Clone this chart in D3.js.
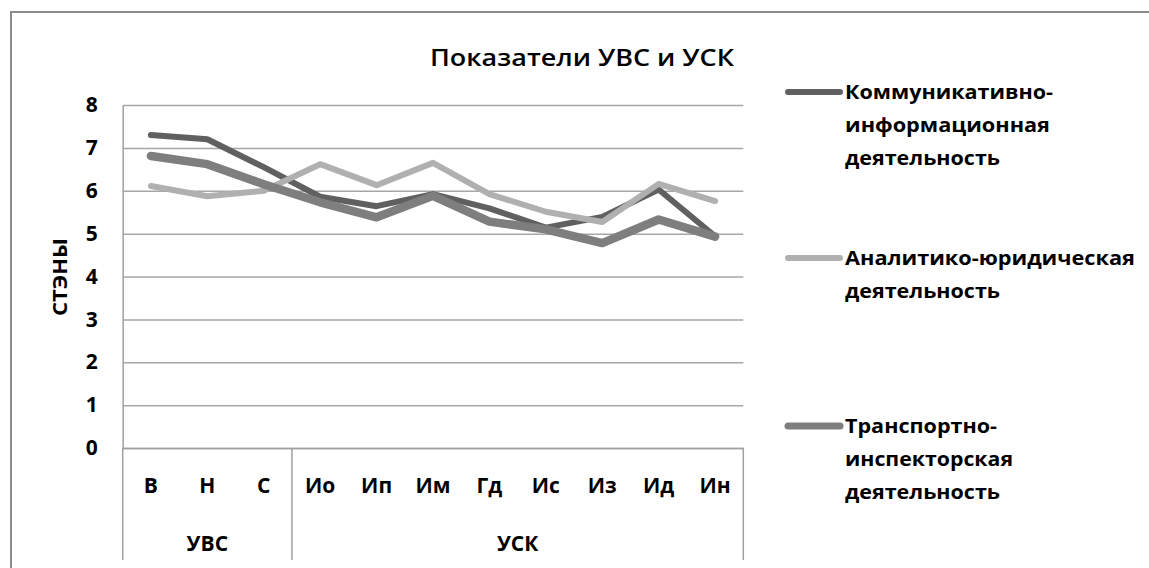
<!DOCTYPE html>
<html>
<head>
<meta charset="utf-8">
<script src="https://cdn.jsdelivr.net/npm/d3@7"></script>
<style>
  html, body { margin: 0; padding: 0; background: #fff; }
  svg { display: block; }
  text { font-family: "Open Sans", "Noto Sans", sans-serif; fill: #000; }
</style>
</head>
<body>
<svg id="chart" width="1149" height="568"></svg>
<script>
// ---- data ----
const categories = ["В", "Н", "С", "Ио", "Ип", "Им", "Гд", "Ис", "Из", "Ид", "Ин"];
const groupLabels = ["УВС", "УСК"];
const groupSizes = [3, 8];
const yTicks = [0, 1, 2, 3, 4, 5, 6, 7, 8];
const seriesNames = [
  ["Коммуникативно-", "информационная", "деятельность"],
  ["Аналитико-юридическая", "деятельность"],
  ["Транспортно-", "инспекторская", "деятельность"]
];
const kommValues  = [7.30, 7.20, 6.55, 5.86, 5.64, 5.92, 5.59, 5.14, 5.39, 6.03, 4.94];
const analValues  = [6.11, 5.87, 6.00, 6.62, 6.13, 6.65, 5.92, 5.51, 5.27, 6.16, 5.76];
const transValues = [6.81, 6.62, 6.15, 5.73, 5.38, 5.88, 5.28, 5.10, 4.78, 5.33, 4.93];
const titleText = "Показатели УВС и УСК";
const yAxisTitle = "СТЭНЫ";

(function () {
// ---- styles ----
const seriesStyle = [
  { color: "#606060", width: 6 },
  { color: "#b0b0b0", width: 6 },
  { color: "#7e7e7e", width: 8.5 }
];
const series = [kommValues, analValues, transValues];

const svg = d3.select("#chart");
const pLeft = 122.7, pRight = 743.3, pTop = 105, pBottom = 448;

// outer chart border
svg.append("rect")
  .attr("x", 11).attr("y", 12).attr("width", 1160).attr("height", 600)
  .attr("fill", "none").attr("stroke", "#8c8c8c").attr("stroke-width", 2);

const x = d3.scaleBand().domain(categories).range([pLeft, pRight]).padding(0);
const y = d3.scaleLinear().domain([0, 8]).range([pBottom, pTop]);

// y axis + gridlines
const yAxis = svg.append("g")
  .attr("transform", `translate(${pLeft},0)`)
  .call(d3.axisLeft(y).tickValues(yTicks).tickSize(-(pRight - pLeft)).tickSizeOuter(0).tickPadding(25));
yAxis.select(".domain").attr("stroke", "#a0a0a0").attr("stroke-width", 1.5);
yAxis.selectAll(".tick line").attr("stroke", "#a6a6a6").attr("stroke-width", 1.5);
yAxis.selectAll(".tick text")
  .attr("font-size", 21).attr("font-weight", 700)
  .attr("font-family", "'Open Sans', sans-serif").attr("fill", "#000");

// x axis (categories)
const xAxis = svg.append("g")
  .attr("transform", `translate(0,${pBottom})`)
  .call(d3.axisBottom(x).tickSize(0).tickSizeOuter(0).tickPadding(30));
xAxis.select(".domain").attr("stroke", "#a0a0a0").attr("stroke-width", 1.5);
xAxis.selectAll(".tick text")
  .attr("font-size", 21).attr("font-weight", 700)
  .attr("font-family", "'Open Sans', sans-serif").attr("fill", "#000");

// group separators and labels
let idx = 0;
const bounds = [x(categories[0])];
groupLabels.forEach((g, i) => {
  const first = categories[idx];
  const last = categories[idx + groupSizes[i] - 1];
  const x0 = x(first), x1 = x(last) + x.bandwidth();
  bounds.push(x1);
  svg.append("text")
    .attr("x", (x0 + x1) / 2).attr("y", 551)
    .attr("text-anchor", "middle")
    .attr("font-size", 21).attr("font-weight", 700)
    .text(g);
  idx += groupSizes[i];
});
svg.selectAll(".sep").data(bounds).enter().append("line")
  .attr("class", "sep")
  .attr("x1", d => d).attr("x2", d => d)
  .attr("y1", pBottom).attr("y2", 560)
  .attr("stroke", "#a0a0a0").attr("stroke-width", 1.5);

// lines
const line = d3.line()
  .x((d, i) => x(categories[i]) + x.bandwidth() / 2)
  .y(d => y(d));
series.forEach((vals, s) => {
  svg.append("path")
    .datum(vals)
    .attr("d", line)
    .attr("fill", "none")
    .attr("stroke", seriesStyle[s].color)
    .attr("stroke-width", seriesStyle[s].width)
    .attr("stroke-linejoin", "round")
    .attr("stroke-linecap", "round");
});

// title
svg.append("text")
  .attr("x", 582).attr("y", 66)
  .attr("text-anchor", "middle")
  .attr("font-size", 23).attr("font-weight", 600)
  .attr("textLength", 304).attr("lengthAdjust", "spacingAndGlyphs")
  .text(titleText);

// y axis title
svg.append("text")
  .attr("transform", "translate(67,277) rotate(-90)")
  .attr("text-anchor", "middle")
  .attr("font-size", 20).attr("font-weight", 700)
  .attr("textLength", 78).attr("lengthAdjust", "spacingAndGlyphs")
  .text(yAxisTitle);

// legend
const legendY = [92, 258, 426];
const legendWidths = [[208, 205, 155], [290, 155], [152, 168, 155]];
seriesNames.forEach((lines, s) => {
  const g = svg.append("g");
  g.append("line")
    .attr("x1", 788).attr("x2", 840)
    .attr("y1", legendY[s]).attr("y2", legendY[s])
    .attr("stroke", seriesStyle[s].color)
    .attr("stroke-width", s === 2 ? 7 : 6)
    .attr("stroke-linecap", "round");
  lines.forEach((t, k) => {
    g.append("text")
      .attr("x", 845).attr("y", legendY[s] + 7 + k * 33)
      .attr("font-size", 20).attr("font-weight", 700)
      .attr("textLength", legendWidths[s][k]).attr("lengthAdjust", "spacingAndGlyphs")
      .text(t);
  });
});
})();
</script>
</body>
</html>
